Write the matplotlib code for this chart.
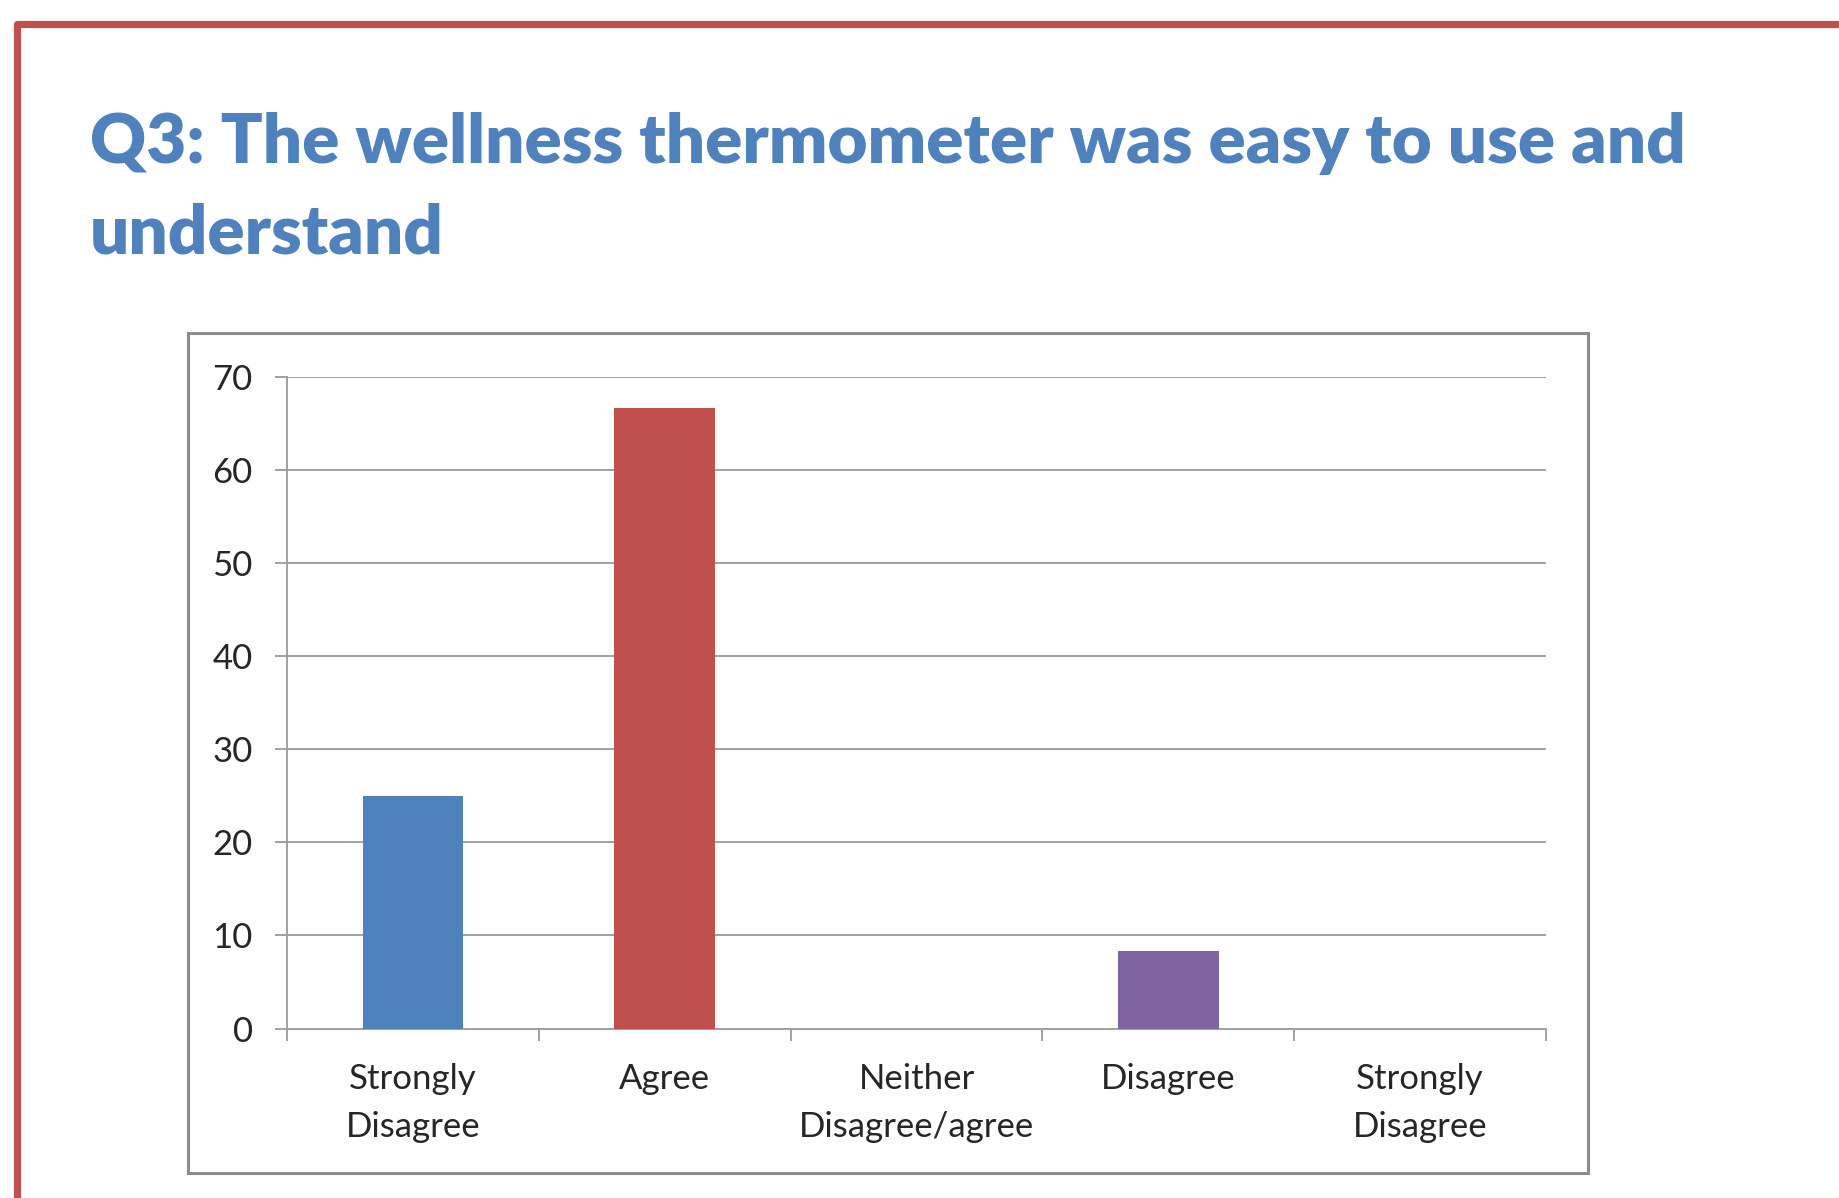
import matplotlib
matplotlib.use("Agg")
from matplotlib import pyplot as plt
from matplotlib.patches import Rectangle
from matplotlib.lines import Line2D
from matplotlib.ticker import FixedLocator

# data (percent of responses)
categories = ["Strongly\nDisagree", "Agree", "Neither\nDisagree/agree", "Disagree", "Strongly\nDisagree"]
percent = [25.0, 66.67, 0.0, 8.33, 0.0]
bar_colors = ["#4F81BD", "#C0504D", "#9BBB59", "#8064A2", "#4BACC6"]
yticks = [0, 10, 20, 30, 40, 50, 60, 70]
title_lines = ["Q3: The wellness thermometer was easy to use and", "understand"]

W, H = 1839, 1198
plt.rcParams['font.family'] = ['Lato', 'DejaVu Sans']

fig = plt.figure(figsize=(W / 100, H / 100), dpi=100)

# red page frame at top/left
frame = Line2D([16.5 / W, 16.5 / W, 1.0], [0.0, 1 - 23.5 / H, 1 - 23.5 / H],
               transform=fig.transFigure, color="#C0504D", linewidth=5.2,
               solid_joinstyle="round")
fig.add_artist(frame)

# title
for i, line in enumerate(title_lines):
    fig.text(90 / W, 1 - (163 + 90 * i) / H, line,
             color="#4F81BD", fontsize=49.7, fontweight="heavy", va="baseline", ha="left")

# chart outer box
box = Rectangle((188 / W, 1 - 1173 / H), 1400 / W, 840 / H, transform=fig.transFigure,
                facecolor="none", edgecolor="#8C8C8C", linewidth=2.2)
fig.add_artist(box)

ax = fig.add_axes([287 / W, 1 - 1028.5 / H, (1546 - 287) / W, (1028.5 - 376.5) / H])
x = list(range(len(categories)))
ax.bar(x, percent, width=0.4, color=bar_colors, zorder=3)

ax.set_xlim(-0.5, len(categories) - 0.5)
ax.set_ylim(0, 70)
ax.set_yticks(yticks)
ax.set_xticks(x)
ax.set_xticklabels(categories, linespacing=1.62)
ax.xaxis.set_minor_locator(FixedLocator([i - 0.5 for i in range(len(categories) + 1)]))

grid_col = "#A0A0A0"
ax.yaxis.grid(True, color=grid_col, linewidth=1.4, zorder=0)
ax.set_axisbelow(True)
for s in ["top", "right"]:
    ax.spines[s].set_visible(False)
for s in ["left", "bottom"]:
    ax.spines[s].set_color(grid_col)
    ax.spines[s].set_linewidth(1.4)

ax.tick_params(axis="y", which="major", length=8.6, width=1.4, color=grid_col,
               labelsize=25, labelcolor="#262626", pad=16)
ax.tick_params(axis="x", which="major", length=0, labelsize=25, labelcolor="#262626", pad=25)
ax.tick_params(axis="x", which="minor", length=8.6, width=1.4, color=grid_col)

fig.savefig("out.png", dpi=100)
